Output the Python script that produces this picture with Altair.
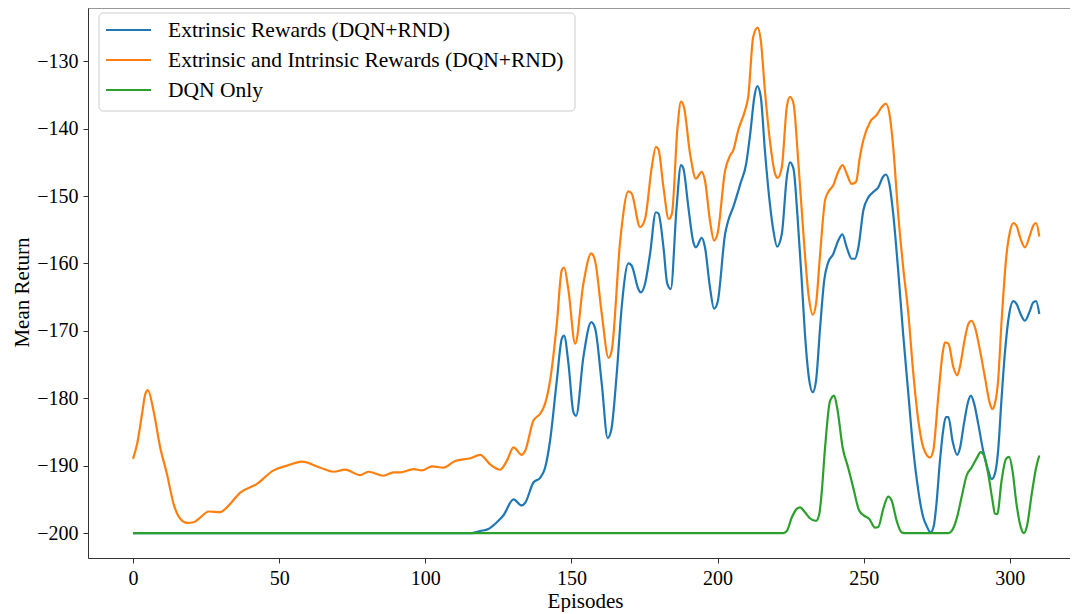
import altair as alt
import pandas as pd

names = ["Extrinsic Rewards (DQN+RND)",
         "Extrinsic and Intrinsic Rewards (DQN+RND)",
         "DQN Only"]
colors = ["#1f77b4", "#ff7f0e", "#2ca02c"]

ext_x = [0, 116, 118.8, 121.6, 124.5, 126.7, 130.2, 133.0, 134.2, 137.0, 139.3, 141.0, 142.7,
         145.0, 146.7, 147.5, 149.0, 150.7, 151.6, 154.1, 156.8, 158.1, 160.4, 162.4, 163.6,
         165.5, 167.2, 169.5, 170.6, 172.9, 173.7, 175.2, 176.9, 178.9, 179.8, 181.5, 182.8,
         184.0, 186.0, 187.5, 188.3, 190.0, 191.7, 192.6, 194.6, 195.7, 197.4, 198.8, 200.0,
         202.6, 203.7, 205.4, 207.8, 209.8, 211.2, 212.6, 213.6, 214.8, 216.2, 217.9, 219.1,
         220.4, 222.0, 223.7, 224.8, 226.0, 227.3, 228.8, 229.9, 231.1, 232.6, 233.7, 235.1,
         236.5, 237.9, 239.6, 241.3, 242.7, 244.2, 245.9, 247.0, 248.2, 249.9, 251.6, 253.3,
         255.0, 256.7, 257.6, 258.8, 260.1, 261.8, 263.5, 265.3, 266.9, 268.7, 270.4, 271.5,
         272.9, 274.0, 274.9, 276.1, 277.2, 278.1, 279.0, 280.4, 282.0, 282.9, 284.3, 285.8,
         286.7, 287.8, 289.2, 290.9, 292.6, 293.8, 294.9, 296.0, 297.2, 298.3, 299.8, 301.2,
         302.3, 303.7, 305.2, 306.9, 308.0, 309.0, 310.1]
ext_y = [-200, -200, -199.7, -199.4, -198.4, -197.4, -195.0, -195.9, -195.5, -192.5, -191.8,
         -190.3, -186.3, -177.4, -171.2, -170.7, -174.9, -182.1, -182.6, -173.9, -168.7, -169.6,
         -177.9, -185.9, -184.8, -176.4, -166.5, -160.0, -160.3, -163.8, -164.3, -163.0, -158.6,
         -152.4, -152.6, -157.6, -163.0, -163.8, -151.6, -145.4, -145.9, -151.6, -156.8, -157.6,
         -156.2, -157.6, -163.5, -166.7, -165.8, -155.6, -153.6, -151.6, -148.2, -145.2, -140.7,
         -135.3, -133.7, -135.3, -143.2, -151.1, -155.1, -157.5, -155.6, -147.2, -145.0, -146.0,
         -152.6, -162.5, -170.4, -176.4, -179.1, -177.4, -169.5, -162.5, -159.8, -158.6, -156.6,
         -155.7, -157.6, -159.3, -159.3, -157.6, -152.1, -150.2, -149.4, -148.7, -147.1, -146.8,
         -148.2, -152.6, -161.0, -170.4, -179.4, -187.3, -193.7, -197.7, -198.9, -199.9, -198.9,
         -195.7, -189.3, -184.8, -182.8, -182.8, -186.3, -188.4, -187.5, -183.8, -180.4, -179.6,
         -180.8, -183.8, -187.8, -190.7, -192.0, -191.2, -187.8, -179.9, -173.4, -167.5, -165.6,
         -166.0, -167.5, -168.5, -167.0, -165.8, -165.6, -167.5]

int_x = [0, 1.4, 3.1, 4.2, 5.1, 7.0, 9.3, 11.6, 13.9, 16.2, 18.5, 20.7, 23.0, 25.9, 29.9, 32.1,
         36.7, 42.4, 48.1, 52.7, 57.8, 64.1, 68.6, 72.6, 77.7, 80.6, 85.7, 89.1, 91.4, 96.0,
         98.8, 102.3, 106.2, 110.2, 115.4, 118.8, 122.2, 125.6, 127.9, 130.2, 133.0, 134.2,
         137.0, 139.3, 141.0, 142.7, 145.0, 146.7, 147.5, 149.0, 151.3, 154.1, 156.8, 158.1,
         160.4, 162.7, 163.8, 166.7, 169.5, 170.6, 173.5, 175.2, 177.5, 178.9, 179.8, 181.5,
         183.3, 184.4, 186.3, 187.5, 188.5, 190.6, 192.6, 194.6, 195.7, 197.4, 198.8, 200.0,
         202.6, 204.3, 205.4, 207.1, 209.4, 210.5, 212.2, 213.7, 214.8, 216.2, 217.9, 219.7,
         220.6, 222.0, 223.7, 224.8, 226.0, 227.6, 229.3, 231.1, 232.6, 233.7, 235.1, 236.8,
         237.9, 239.6, 241.3, 242.8, 244.2, 245.9, 247.4, 248.7, 249.9, 252.2, 254.4, 256.2,
         257.6, 259.0, 260.1, 261.8, 263.5, 265.3, 266.9, 268.7, 270.4, 272.7, 273.8, 275.5,
         277.0, 277.8, 279.0, 280.7, 282.0, 282.9, 284.6, 285.8, 286.9, 288.1, 289.8, 291.5,
         293.2, 294.0, 294.9, 296.0, 297.2, 298.9, 300.0, 301.2, 302.3, 303.5, 305.2, 306.9,
         308.0, 309.0, 310.1]
int_y = [-189.0, -186.8, -182.3, -179.4, -178.8, -181.8, -187.3, -191.2, -195.7, -197.9, -198.5,
         -198.4, -197.7, -196.8, -196.9, -196.2, -194.0, -192.7, -190.7, -190.0, -189.4, -190.3,
         -190.9, -190.6, -191.4, -190.9, -191.5, -191.0, -191.0, -190.5, -190.7, -190.1, -190.3,
         -189.3, -188.9, -188.4, -189.8, -190.6, -189.3, -187.3, -188.4, -187.8, -183.3, -182.3,
         -180.8, -177.4, -169.0, -161.0, -160.6, -164.0, -171.9, -163.0, -158.5, -159.6, -167.5,
         -174.0, -172.9, -156.6, -149.3, -149.6, -154.6, -153.4, -145.7, -142.7, -143.1, -148.7,
         -153.4, -152.6, -139.8, -136.0, -136.8, -143.7, -147.4, -146.4, -147.7, -153.6, -156.6,
         -155.6, -146.2, -144.0, -143.2, -140.2, -137.3, -135.3, -126.4, -125.0, -126.9, -134.3,
         -141.7, -146.7, -147.3, -145.7, -136.8, -135.3, -136.3, -144.7, -155.1, -164.5, -167.6,
         -166.0, -158.6, -150.6, -149.4, -148.4, -146.4, -145.4, -146.7, -148.2, -147.9, -144.2,
         -141.7, -139.0, -138.0, -136.8, -136.3, -138.3, -142.7, -152.6, -160.5, -167.5, -175.9,
         -183.3, -187.3, -188.8, -187.8, -179.9, -173.4, -171.7, -171.9, -175.4, -176.6, -175.4,
         -171.2, -169.0, -168.5, -169.5, -172.9, -176.9, -180.8, -181.6, -180.8, -177.4, -168.5,
         -158.6, -155.4, -154.0, -154.4, -156.1, -157.6, -155.8, -154.4, -154.0, -156.0]

dqn_x = [0, 222.5, 223.7, 225.4, 227.1, 228.2, 229.9, 231.6, 233.7, 234.8, 235.6, 236.8, 238.5,
         239.9, 241.0, 242.8, 244.7, 246.4, 248.5, 250.1, 251.9, 253.9, 255.0, 256.7, 258.4,
         259.6, 261.3, 263.0, 264.1, 279.0, 280.1, 281.8, 283.5, 285.2, 286.9, 288.8, 290.0,
         291.2, 292.6, 294.1, 294.9, 295.7, 297.2, 298.7, 299.8, 300.9, 302.3, 303.8, 304.8,
         305.9, 307.5, 309.0, 310.1]
dqn_y = [-200, -200, -199.7, -197.7, -196.4, -196.2, -196.9, -197.8, -198.2, -197.2, -194.2,
         -187.3, -180.4, -179.6, -181.6, -187.3, -190.3, -193.2, -196.7, -197.4, -197.9, -199.2,
         -199.1, -196.4, -194.6, -195.2, -198.2, -199.9, -200, -200, -199.7, -197.9, -194.7,
         -191.5, -190.3, -188.8, -188.0, -188.5, -191.2, -195.2, -197.1, -197.2, -192.2, -189.0,
         -188.7, -190.7, -195.7, -199.2, -200.0, -198.9, -194.2, -190.3, -188.5]

x_ticks = [0, 50, 100, 150, 200, 250, 300]
y_ticks = [-200, -190, -180, -170, -160, -150, -140, -130]

rows = []
for name, xs, ys in zip(names, [ext_x, int_x, dqn_x], [ext_y, int_y, dqn_y]):
    for x, y in zip(xs, ys):
        rows.append({"episode": x, "ret": y, "series": name})
df = pd.DataFrame(rows)

W, H = 982, 550
FONT = "Liberation Serif"
LW = 2.2

lines = alt.Chart(df).mark_line(strokeWidth=LW, interpolate="monotone", clip=True).encode(
    x=alt.X("episode:Q",
            scale=alt.Scale(domain=[-15.4, 320.6], nice=False, zero=False),
            axis=alt.Axis(values=x_ticks, title="Episodes", grid=False, format="d",
                          titleX=497, titleY=49, titleBaseline="alphabetic",
                          titleAlign="center")),
    y=alt.Y("ret:Q",
            scale=alt.Scale(domain=[-203.7, -122.1], nice=False, zero=False),
            axis=alt.Axis(values=y_ticks, title="Mean Return", grid=False, format="d",
                          titleX=-66, titleY=284, titleBaseline="middle",
                          titleAlign="center", titleAngle=270)),
    color=alt.Color("series:N", scale=alt.Scale(domain=names, range=colors), legend=None),
)

one = pd.DataFrame({"a": [0]})

top = alt.Chart(one).mark_rule(color="#333333", strokeWidth=1).encode(
    x=alt.value(0), x2=alt.value(W), y=alt.value(0)
)

legend_box = alt.Chart(one).mark_rect(
    fill="white", fillOpacity=0.8, stroke="#cccccc", strokeWidth=1, cornerRadius=4
).encode(x=alt.value(11), x2=alt.value(487), y=alt.value(5), y2=alt.value(103))

layers = [lines, top, legend_box]
for i, (name, color) in enumerate(zip(names, colors)):
    yy = 22 + 30 * i
    layers.append(
        alt.Chart(one).mark_rule(color=color, strokeWidth=LW).encode(
            x=alt.value(18), x2=alt.value(63), y=alt.value(yy))
    )
    layers.append(
        alt.Chart(one).mark_text(align="left", baseline="middle", font=FONT, fontSize=21.5,
                                 color="black", text=name).encode(
            x=alt.value(80), y=alt.value(yy + 1))
    )

chart = alt.layer(*layers).properties(
    width=W, height=H,
    padding={"left": 80, "top": 0, "right": 0, "bottom": 54},
    autosize=alt.AutoSizeParams(type="none"),
).configure_view(stroke=None).configure_axis(
    domainColor="#333333", tickColor="#333333", tickSize=5, labelPadding=5,
    labelFont=FONT, labelFontSize=20, labelColor="black",
    titleFont=FONT, titleFontSize=21, titleFontWeight="normal", titleColor="black",
)

chart.save("out.html", embed_options={"renderer": "svg", "actions": False})
